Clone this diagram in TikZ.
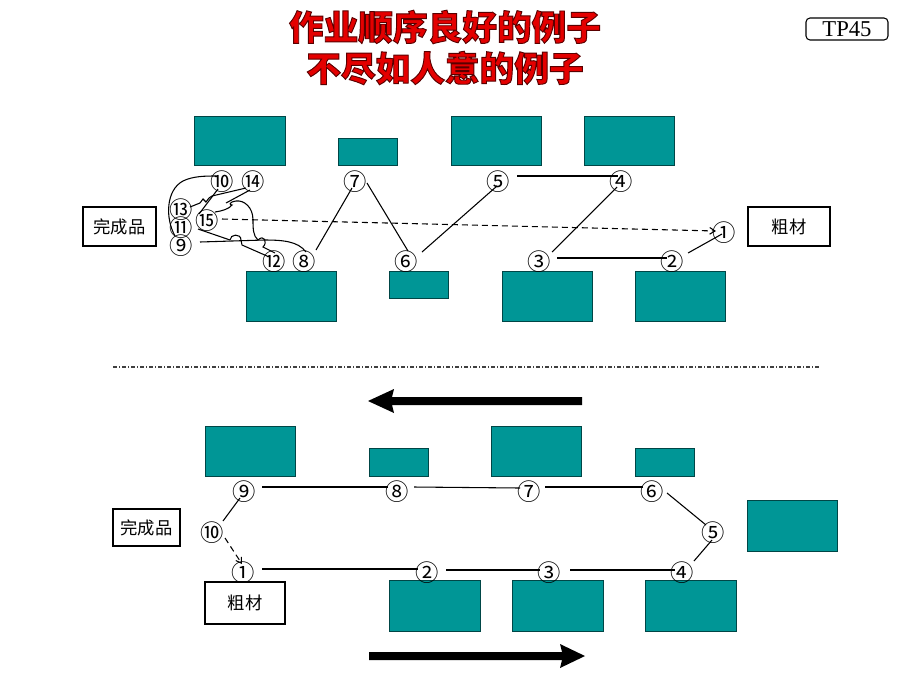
\documentclass[tikz,border=0pt]{standalone}
\usepackage{fontspec}
\setmainfont{Liberation Serif}
\newfontfamily\cjk{Noto Sans CJK SC}
\usetikzlibrary{arrows.meta}
\definecolor{mteal}{RGB}{0,150,150}
\definecolor{mtealdk}{RGB}{0,70,70}
\definecolor{tred}{RGB}{228,0,0}
\newcommand{\circnum}[1]{\makebox[0pt]{\raisebox{-0.36em}[0pt][0pt]{#1}}}
\newcommand{\outlinedtext}[1]{\special{pdf:literal direct 2 Tr 0.7 w 0.35 0 0 RG}#1\special{pdf:literal direct 0 Tr}}
\begin{document}
\begin{tikzpicture}[x=0.75pt,y=-0.75pt,
  mach/.style={draw=mtealdk, fill=mteal, line width=0.75pt},
  cn/.style={circle, inner sep=0pt, minimum size=13.5pt, font=\cjk\fontsize{17.5}{17.5}\selectfont},
  lbl/.style={draw=black, line width=1.9pt, inner sep=0pt, font=\cjk\fontsize{13}{13}\selectfont},
  flow/.style={line width=0.8pt},
  back/.style={line width=0.8pt, dash pattern=on 4.5pt off 3pt, -{Straight Barb[length=4pt,width=5pt]}},
  ttl/.style={font=\cjk\bfseries\fontsize{26}{26}\selectfont, inner sep=0pt, text=tred},
]
\useasboundingbox (0,0) rectangle (920,690);
\fill[white] (0,0) rectangle (920,690);

% title
\node[ttl] (title1) at (445,27) {\outlinedtext{作业顺序良好的例子}};
\node[ttl] (title2) at (445,68) {\outlinedtext{不尽如人意的例子}};
\node[draw, rounded corners=3pt, line width=0.8pt, minimum width=61.5pt, minimum height=16.5pt, inner sep=0pt, font=\fontsize{17}{17}\selectfont] (tp) at (847,29) {TP45};

% machines top
\path[mach] (194,116) rectangle (285,165);
\path[mach] (338,138) rectangle (397,165);
\path[mach] (451,116) rectangle (541,165);
\path[mach] (584,116) rectangle (674,165);
\path[mach] (246,271) rectangle (336,321);
\path[mach] (389,271) rectangle (448,298);
\path[mach] (502,271) rectangle (592,321);
\path[mach] (635,271) rectangle (725,321);
% machines bottom
\path[mach] (205,426) rectangle (295,476);
\path[mach] (369,448) rectangle (428,476);
\path[mach] (491,426) rectangle (581,476);
\path[mach] (635,448) rectangle (694,476);
\path[mach] (747,500) rectangle (837,551);
\path[mach] (389,580) rectangle (480,631);
\path[mach] (512,580) rectangle (603,631);
\path[mach] (645,580) rectangle (736,631);

% labels
\node[lbl, minimum width=54.75pt, minimum height=29.25pt] (fin1) at (119.5,226.5) {完成品};
\node[lbl, minimum width=61.5pt, minimum height=29.25pt] (raw1) at (789,226.5) {粗材};
\node[lbl, minimum width=50.25pt, minimum height=27.75pt] (fin2) at (146.5,527.5) {完成品};
\node[lbl, minimum width=60pt, minimum height=31.5pt] (raw2) at (245,603) {粗材};

% circled numbers top
\node[cn] (t1) at (724,233) {\circnum{①}};
\node[cn] (t2) at (672,262) {\circnum{②}};
\node[cn] (t3) at (539,262) {\circnum{③}};
\node[cn] (t4) at (621,182) {\circnum{④}};
\node[cn] (t5) at (498,182) {\circnum{⑤}};
\node[cn] (t6) at (406,262) {\circnum{⑥}};
\node[cn] (t7) at (355,182) {\circnum{⑦}};
\node[cn] (t8) at (304,262) {\circnum{⑧}};
\node[cn] (t9) at (181,246) {\circnum{⑨}};
\node[cn] (t10) at (222,182) {\circnum{⑩}};
\node[cn] (t11) at (181,228) {\circnum{⑪}};
\node[cn] (t12) at (274,262) {\circnum{⑫}};
\node[cn] (t13) at (181,210) {\circnum{⑬}};
\node[cn] (t14) at (253,182) {\circnum{⑭}};
\node[cn] (t15) at (207,221) {\circnum{⑮}};

% top connectors
\draw[flow] ([shift={(16,-9)}]t2.center) -- ([shift={(-2,1)}]t1.center);
\draw[flow] ([shift={(18,-4)}]t3.center) -- ([shift={(-5,-4)}]t2.center);
\draw[flow] ([shift={(-4,5)}]t4.center) -- ([shift={(13,-10)}]t3.center);
\draw[flow] ([shift={(19,-6)}]t5.center) -- ([shift={(-3,-6)}]t4.center);
\draw[flow] ([shift={(16,-10)}]t6.center) -- ([shift={(-1,4)}]t5.center);
\draw[flow] ([shift={(12,1)}]t7.center) -- ([shift={(2,-11)}]t6.center);
\draw[flow] ([shift={(12,-12)}]t8.center) -- ([shift={(-3,6)}]t7.center);
\draw[flow] ([shift={(2,-10)}]t8.center) .. controls (298,241) and (282,240) .. (264,240) -- ([shift={(19,-4)}]t9.center);
\draw[flow] ([shift={(-6,-10)}]t9.center) .. controls (165,218) and (166,190) .. (183,181) .. controls (193,176) and (206,176) .. ([shift={(-6,-6)}]t10.center);
\draw[flow] ([shift={(-4,7)}]t10.center) -- ([shift={(18,-14)}]t11.center);
\draw[flow] ([shift={(17,1)}]t11.center) -- (230,240) .. controls (230,234) and (241,233) .. (241,240) -- (242,245) -- ([shift={(-7,-6)}]t12.center);
\draw[flow] ([shift={(1,-9)}]t12.center) -- (263,247) .. controls (268,242) and (264,234) .. (258,240) .. controls (253,236) and (253,228) .. (253,220) .. controls (253,207) and (244,200) .. (236,201) .. controls (229,202) and (229,205) .. (232,205) .. controls (229,209) and (222,211) .. ([shift={(34,2)}]t13.center);
\draw[flow] ([shift={(9,-3)}]t13.center) -- (200,203) -- (203,199) -- (206,202) -- (209,198) -- (212,196) -- ([shift={(-7,6)}]t14.center);
\draw[flow] ([shift={(-3,8)}]t14.center) -- ([shift={(19,-18)}]t15.center);
\draw[back] ([shift={(15,-2)}]t15.center) -- ([shift={(-8,-2)}]t1.center);

% separator
\draw[line width=0.8pt, black!75, dash pattern=on 3pt off 1.5pt on 0.75pt off 1.5pt] (113,367) -- (820,367);

% big arrows
\fill[black] (582,397) -- (392,397) -- (394,389) -- (368,401) -- (394,413) -- (392,405) -- (582,405) -- cycle;
\fill[black] (369,652) -- (562,652) -- (560,644) -- (585,656) -- (560,668) -- (562,660) -- (369,660) -- cycle;

% circled numbers bottom
\node[cn] (b1) at (243,573) {\circnum{①}};
\node[cn] (b2) at (427,573) {\circnum{②}};
\node[cn] (b3) at (549,573) {\circnum{③}};
\node[cn] (b4) at (682,573) {\circnum{④}};
\node[cn] (b5) at (713,533) {\circnum{⑤}};
\node[cn] (b6) at (652,492) {\circnum{⑥}};
\node[cn] (b7) at (529,492) {\circnum{⑦}};
\node[cn] (b8) at (397,492) {\circnum{⑧}};
\node[cn] (b9) at (244,492) {\circnum{⑨}};
\node[cn] (b10) at (212,533) {\circnum{⑩}};

% bottom connectors
\draw[flow] ([shift={(19,-4)}]b1.center) -- ([shift={(-9,-4)}]b2.center);
\draw[flow] ([shift={(19,-3)}]b2.center) -- ([shift={(-9,-3)}]b3.center);
\draw[flow] ([shift={(21,-3)}]b3.center) -- ([shift={(-7,-3)}]b4.center);
\draw[flow] ([shift={(12,-12)}]b4.center) -- ([shift={(-1,7)}]b5.center);
\draw[flow] ([shift={(-7,-8)}]b5.center) -- ([shift={(15,1)}]b6.center);
\draw[flow] ([shift={(-9,-5)}]b6.center) -- ([shift={(16,-5)}]b7.center);
\draw[flow] ([shift={(-9,-4)}]b7.center) -- ([shift={(17,-5)}]b8.center);
\draw[flow] ([shift={(-9,-5)}]b8.center) -- ([shift={(18,-5)}]b9.center);
\draw[flow] ([shift={(-4,6)}]b9.center) -- ([shift={(11,-12)}]b10.center);
\draw[back] ([shift={(13,5)}]b10.center) -- ([shift={(-1,-9)}]b1.center);
\end{tikzpicture}
\end{document}
